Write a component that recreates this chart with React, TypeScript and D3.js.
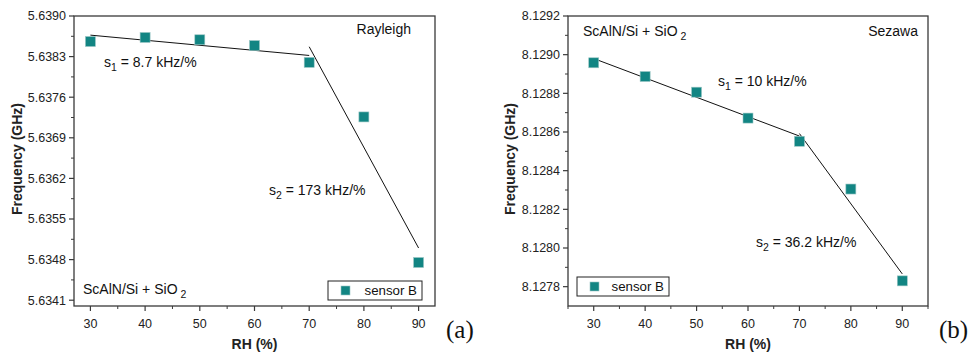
import React from 'react';
import * as d3 from 'd3';

// relative humidity steps (%)
const rh = [30, 40, 50, 60, 70, 80, 90];

// sensor B, Rayleigh mode frequency (GHz)
const rayleighFreq = [5.63856, 5.63863, 5.63859, 5.63849, 5.6382, 5.63726, 5.63475];
// sensor B, Sezawa mode frequency (GHz)
const sezawaFreq = [8.128958, 8.128887, 8.128806, 8.128672, 8.128552, 8.128305, 8.12783];

// fitted segments [x, y]
const rayleighFit1 = [[30, 5.63867], [70, 5.63832]];
const rayleighFit2 = [[70, 5.63847], [90, 5.635]];
const sezawaFit1 = [[30, 8.12898], [70, 8.128579]];
const sezawaFit2 = [[70, 8.128592], [90, 8.127866]];

const rayleighTicks = [5.6341, 5.6348, 5.6355, 5.6362, 5.6369, 5.6376, 5.6383, 5.639];
const sezawaTicks = [8.1278, 8.128, 8.1282, 8.1284, 8.1286, 8.1288, 8.129, 8.1292];
const xTicks = [30, 40, 50, 60, 70, 80, 90];

const teal = '#128583';
const axisColor = '#3a3a3a';
const font = "'Liberation Sans', Arial, sans-serif";

type Cfg = {
  left: number; right: number; top: number; bottom: number;
  xDomain: [number, number]; yDomain: [number, number];
  yTicks: number[];
  freq: number[]; fit1: number[][]; fit2: number[][];
  yLabelX: number;
  texts: { x: number; y: number; node: React.ReactNode; anchor?: string }[];
  legend: { x: number; y: number; w: number; h: number };
  letter: { x: number; text: string };
};

function Sub(props: { main: string; sub: string; tail?: string; gap?: number }) {
  return (
    <>
      {props.main}
      <tspan dx={props.gap || 0} dy={4} fontSize={10.5}>{props.sub}</tspan>
      {props.tail ? <tspan dy={-4}>{props.tail}</tspan> : null}
    </>
  );
}

function Panel({ c }: { c: Cfg }) {
  const x = d3.scaleLinear().domain(c.xDomain).range([c.left, c.right]);
  const y = d3.scaleLinear().domain(c.yDomain).range([c.bottom, c.top]);
  const line = d3.line<number[]>().x(d => x(d[0])).y(d => y(d[1]));

  const xMinor: number[] = [];
  for (let v = Math.ceil(c.xDomain[0] / 5) * 5; v <= c.xDomain[1]; v += 5) {
    if (v % 10 !== 0) xMinor.push(v);
  }
  const yMinor: number[] = [];
  for (let i = 0; i < c.yTicks.length - 1; i++) {
    yMinor.push((c.yTicks[i] + c.yTicks[i + 1]) / 2);
  }
  const sz = 10;

  return (
    <g fontFamily={font}>
      <rect x={c.left} y={c.top} width={c.right - c.left} height={c.bottom - c.top}
        fill="none" stroke={axisColor} strokeWidth={1.3} />
      {/* y axis ticks */}
      {c.yTicks.map(t => (
        <g key={'y' + t}>
          <line x1={c.left - 5} x2={c.left} y1={y(t)} y2={y(t)} stroke={axisColor} strokeWidth={1.2} />
          <text x={c.left - 8} y={y(t)} dy="0.35em" textAnchor="end" fontSize={12.5} fill="#222">
            {t.toFixed(4)}
          </text>
        </g>
      ))}
      {yMinor.map(t => (
        <line key={'ym' + t} x1={c.left - 3} x2={c.left} y1={y(t)} y2={y(t)} stroke={axisColor} strokeWidth={1} />
      ))}
      {/* x axis ticks */}
      {xTicks.map(t => (
        <g key={'x' + t}>
          <line x1={x(t)} x2={x(t)} y1={c.bottom} y2={c.bottom + 5} stroke={axisColor} strokeWidth={1.2} />
          <text x={x(t)} y={c.bottom + 22} textAnchor="middle" fontSize={12.5} fill="#222">{t}</text>
        </g>
      ))}
      {xMinor.map(t => (
        <line key={'xm' + t} x1={x(t)} x2={x(t)} y1={c.bottom} y2={c.bottom + 3} stroke={axisColor} strokeWidth={1} />
      ))}
      <text x={(c.left + c.right) / 2} y={c.bottom + 43} textAnchor="middle" fontSize={14} fontWeight="bold" fill="#222">
        RH (%)
      </text>
      <text transform={`translate(${c.yLabelX},${(c.top + c.bottom) / 2 - 2}) rotate(-90)`} textAnchor="middle"
        fontSize={14} fontWeight="bold" fill="#222">
        Frequency (GHz)
      </text>
      {/* fits */}
      <path d={line(c.fit1) || ''} fill="none" stroke="#111" strokeWidth={1} />
      <path d={line(c.fit2) || ''} fill="none" stroke="#111" strokeWidth={1} />
      {/* markers */}
      {rh.map((v, i) => (
        <rect key={'p' + v} x={x(v) - sz / 2} y={y(c.freq[i]) - sz / 2} width={sz} height={sz}
          fill={teal} stroke="#9cc7c5" strokeWidth={0.6} />
      ))}
      {/* annotations */}
      {c.texts.map((t, i) => (
        <text key={'t' + i} x={t.x} y={t.y} fontSize={14} fill="#111" textAnchor={t.anchor || 'start'}>{t.node}</text>
      ))}
      {/* legend */}
      <rect x={c.legend.x} y={c.legend.y} width={c.legend.w} height={c.legend.h} fill="white" stroke="#222" strokeWidth={1} />
      <rect x={c.legend.x + 13} y={c.legend.y + c.legend.h / 2 - 4.5} width={9} height={9} fill={teal} stroke="#9cc7c5" strokeWidth={0.6} />
      <text x={c.legend.x + c.legend.w - 5} y={c.legend.y + c.legend.h / 2} dy="0.35em" textAnchor="end" fontSize={13.3} fill="#111">
        sensor B
      </text>
      <text x={c.letter.x} y={338} fontFamily="'Liberation Serif', 'Times New Roman', serif" fontSize={25} fill="#111">
        {c.letter.text}
      </text>
    </g>
  );
}

const panelA: Cfg = {
  left: 74, right: 435, top: 16, bottom: 306,
  xDomain: [27, 93], yDomain: [5.634, 5.639],
  yTicks: rayleighTicks,
  freq: rayleighFreq, fit1: rayleighFit1, fit2: rayleighFit2,
  yLabelX: 22,
  texts: [
    { x: 411, y: 34, node: 'Rayleigh', anchor: 'end' },
    { x: 104, y: 67, node: <Sub main="s" sub="1" tail=" = 8.7 kHz/%" /> },
    { x: 269, y: 195, node: <Sub main="s" sub="2" tail=" = 173 kHz/%" /> },
    { x: 83, y: 294, node: <Sub main="ScAlN/Si + SiO" sub="2" gap={3} /> },
  ],
  legend: { x: 328, y: 281, w: 94, h: 19 },
  letter: { x: 446, text: '(a)' },
};

const panelB: Cfg = {
  left: 568, right: 928, top: 16, bottom: 306,
  xDomain: [25, 95], yDomain: [8.1277, 8.1292],
  yTicks: sezawaTicks,
  freq: sezawaFreq, fit1: sezawaFit1, fit2: sezawaFit2,
  yLabelX: 515,
  texts: [
    { x: 918, y: 36, node: 'Sezawa', anchor: 'end' },
    { x: 583, y: 36, node: <Sub main="ScAlN/Si + SiO" sub="2" gap={3} /> },
    { x: 718, y: 86, node: <Sub main="s" sub="1" tail=" = 10 kHz/%" /> },
    { x: 756, y: 247, node: <Sub main="s" sub="2" tail=" = 36.2 kHz/%" /> },
  ],
  legend: { x: 577, y: 277, w: 92, h: 19 },
  letter: { x: 939, text: '(b)' },
};

export default function App() {
  return (
    <svg width={972} height={353} style={{ position: 'absolute', left: 0, top: 0, background: 'white' }}>
      <rect width={972} height={353} fill="white" />
      <Panel c={panelA} />
      <Panel c={panelB} />
    </svg>
  );
}
